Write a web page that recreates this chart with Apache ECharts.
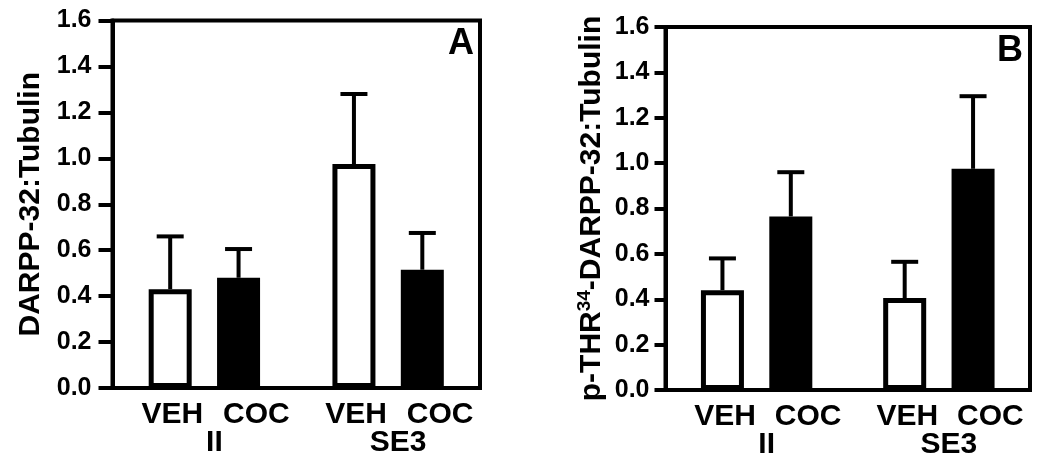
<!DOCTYPE html>
<html>
<head>
<meta charset="utf-8">
<script src="https://cdn.jsdelivr.net/npm/echarts@6/dist/echarts.min.js"></script>
<style>html,body{margin:0;padding:0;background:#fff}#c{width:1050px;height:468px}</style>
</head>
<body>
<div id="c"></div>
<script>
// ---- data ----
const groups = ['II', 'SE3'];
const treatments = ['VEH', 'COC'];
const yTickLabels = ['0.0', '0.2', '0.4', '0.6', '0.8', '1.0', '1.2', '1.4', '1.6'];
// Panel A: DARPP-32:Tubulin
const aVeh = [0.43, 0.975];
const aVehSem = [0.23, 0.305];
const aCoc = [0.48, 0.515];
const aCocSem = [0.125, 0.16];
// Panel B: p-THR34-DARPP-32:Tubulin
const bVeh = [0.44, 0.405];
const bVehSem = [0.14, 0.16];
const bCoc = [0.765, 0.975];
const bCocSem = [0.195, 0.32];

// ---- styling ----
const FONT = 'Liberation Sans, Arial, sans-serif';
const BAR_W = 43, BAR_GAP = 0.59;
const OFF = BAR_W * (1 + BAR_GAP) / 2;
const CAP = 27;

const chart = echarts.init(document.getElementById('c'), null, {renderer: 'canvas'});

function yAxisCfg(gi, name, nameGap, tickLen, margin, rich) {
  return {
    gridIndex: gi, type: 'value', min: 0, max: 1.6, interval: 0.2,
    name: name, nameLocation: 'middle', nameGap: nameGap, nameRotate: 90,
    nameTextStyle: Object.assign({fontFamily: FONT, fontWeight: 'bold', fontSize: 30, color: '#000'}, rich ? {rich: rich} : {}),
    axisLine: {show: true, lineStyle: {color: '#000', width: 4}},
    axisTick: {show: true, length: tickLen, lineStyle: {color: '#000', width: 4}},
    axisLabel: {margin: margin, fontFamily: FONT, fontWeight: 'bold', fontSize: 25, color: '#000',
      formatter: function (v) { return yTickLabels[Math.round(v / 0.2)]; }},
    splitLine: {show: false}
  };
}
function xAxisCfg(gi, w) {
  return {
    gridIndex: gi, type: 'category', data: groups,
    axisLine: {show: true, lineStyle: {color: '#000', width: 4}},
    axisTick: {show: false},
    axisLabel: {
      interval: 0, margin: 13, padding: [0, 0, 0, 20], color: '#000',
      formatter: function (v) { return '{t|' + treatments[0] + '}{t|' + treatments[1] + '}\n{g|' + v + '}'; },
      rich: {
        t: {width: w, align: 'center', fontFamily: FONT, fontWeight: 'bold', fontSize: 30, lineHeight: 28, color: '#000'},
        g: {align: 'center', fontFamily: FONT, fontWeight: 'bold', fontSize: 30, lineHeight: 28, color: '#000'}
      }
    }
  };
}
function barSeries(gi, vals, fill) {
  return {
    type: 'bar', xAxisIndex: gi, yAxisIndex: gi, data: vals,
    barWidth: BAR_W, barGap: (BAR_GAP * 100) + '%', z: 3,
    itemStyle: {color: fill, borderColor: '#000', borderWidth: 5}
  };
}
function errSeries(gi, vals, sems, sign) {
  return {
    type: 'custom', xAxisIndex: gi, yAxisIndex: gi, z: 2,
    data: vals.map(function (v, i) { return [i, v, sems[i]]; }),
    renderItem: function (params, api) {
      const i = api.value(0), v = api.value(1), e = api.value(2);
      const p0 = api.coord([i, v]);
      const p1 = api.coord([i, v + e]);
      const x = p0[0] + sign * OFF;
      const st = {stroke: '#000', lineWidth: 4};
      return {type: 'group', children: [
        {type: 'line', shape: {x1: x, y1: p0[1], x2: x, y2: p1[1]}, style: st},
        {type: 'line', shape: {x1: x - CAP / 2, y1: p1[1], x2: x + CAP / 2, y2: p1[1]}, style: st}
      ]};
    }
  };
}

const option = {
  backgroundColor: '#fff',
  animation: false,
  grid: [
    {left: 112.5, top: 20.5, width: 367.5, height: 367.5, show: true, borderColor: '#000', borderWidth: 4, backgroundColor: 'transparent'},
    {left: 665.5, top: 27, width: 364.5, height: 363, show: true, borderColor: '#000', borderWidth: 4, backgroundColor: 'transparent'}
  ],
  xAxis: [xAxisCfg(0, 84), xAxisCfg(1, 83)],
  yAxis: [
    yAxisCfg(0, 'DARPP-32:Tubulin', 67, 14, 21, null),
    yAxisCfg(1, '{n|p-THR}{s|34}{n|-DARPP-32:Tubulin}', 58, 11, 16, {
      n: {fontFamily: FONT, fontWeight: 'bold', fontSize: 30, lineHeight: 32, color: '#000'},
      s: {fontFamily: FONT, fontWeight: 'bold', fontSize: 19, lineHeight: 16, verticalAlign: 'top', color: '#000'}
    })
  ],
  graphic: [
    {type: 'text', right: 1050 - 474, top: 26, style: {text: 'A', fontFamily: FONT, fontWeight: 'bold', fontSize: 36, fill: '#000'}},
    {type: 'text', right: 1050 - 1023, top: 33, style: {text: 'B', fontFamily: FONT, fontWeight: 'bold', fontSize: 36, fill: '#000'}}
  ],
  series: [
    barSeries(0, aVeh, '#fff'), barSeries(0, aCoc, '#000'),
    errSeries(0, aVeh, aVehSem, -1), errSeries(0, aCoc, aCocSem, 1),
    barSeries(1, bVeh, '#fff'), barSeries(1, bCoc, '#000'),
    errSeries(1, bVeh, bVehSem, -1), errSeries(1, bCoc, bCocSem, 1)
  ]
};
chart.setOption(option);
</script>
</body>
</html>
